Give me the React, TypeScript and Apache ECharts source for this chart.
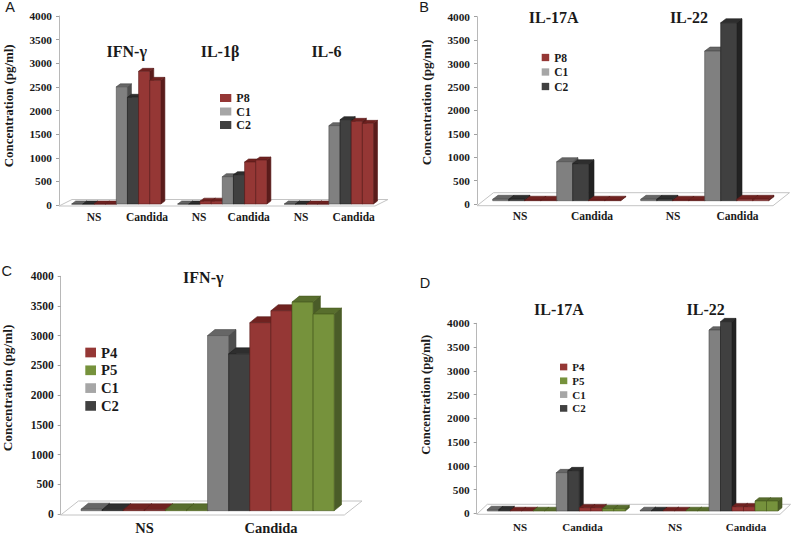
import React, { useEffect, useRef } from "react";
import * as echarts from "echarts";

// Values per [NS, Candida] pair of each cytokine
const cytokinesA = ["IFN-γ", "IL-1β", "IL-6"];
const aC1 = [0, 2480, 0, 578, 0, 1658];
const aC2 = [0, 2258, 0, 620, 0, 1785];
const aP8First = [0, 2808, 60, 889, 0, 1750];
const aP8Second = [0, 2617, 60, 931, 0, 1707];

const cytokinesB = ["IL-17A", "IL-22"];
const bC1 = [30, 833, 30, 3196];
const bC2 = [30, 790, 30, 3800];
const bP8First = [10, 10, 10, 30];
const bP8Second = [10, 10, 10, 30];

const cytokinesC = ["IFN-γ"];
const cC1 = [25, 2947];
const cC2 = [15, 2640];
const cP4First = [15, 3164];
const cP4Second = [15, 3365];
const cP5First = [15, 3510];
const cP5Second = [15, 3309];

const cytokinesD = ["IL-17A", "IL-22"];
const dC1 = [30, 807, 10, 3810];
const dC2 = [30, 849, 10, 3986];
const dP4First = [10, 70, 10, 91];
const dP4Second = [10, 70, 10, 91];
const dP5First = [10, 50, 10, 210];
const dP5Second = [10, 50, 10, 210];

const conditionLabels = ["NS", "Candida"];
const yTicks = { min: 0, max: 4000, interval: 500 };
const yTitle = "Concentration (pg/ml)";

const SERIF = '"Liberation Serif", "Times New Roman", serif';
const SANS = '"Liberation Sans", Arial, sans-serif';

const palette: Record<string, { front: string; top: string; side: string; legend: string; edge: string }> = {
  C1: { front: "#808080", top: "#666666", side: "#4f4f4f", legend: "#a6a6a6", edge: "#4a4a4a" },
  C2: { front: "#404040", top: "#2e2e2e", side: "#222222", legend: "#404040", edge: "#1f1f1f" },
  P8: { front: "#953735", top: "#702220", side: "#5a1c1b", legend: "#953735", edge: "#5a1c1b" },
  P4: { front: "#953735", top: "#702220", side: "#5a1c1b", legend: "#953735", edge: "#5a1c1b" },
  P5: { front: "#76923c", top: "#586e2d", side: "#4a5c28", legend: "#76923c", edge: "#47591f" },
};

type Panel = {
  letter: string; letterX: number; letterY: number;
  left: number; top: number; width: number; height: number;
  barW: number; starts: number[]; dx: number; dy: number; lift: number;
  floorDx: number; floorDy: number; floorBelow: number;
  perCondition: number;
  bars: { name: string; slot: number; values: number[] }[];
  legendNames: string[];
  legendLeft: number; legendTop: number; swatchW: number; swatchH: number; legendFont: number; legendGap: number;
  titles: string[]; titleX: number[]; titleY: number; titleFont: number;
  labelPx: number[]; labelFont: number; labelMargin: number;
  nameX: number; nameY: number; nameFont: number; tickFont: number;
};

const panels: Panel[] = [
  {
    letter: "A", letterX: 10, letterY: 7,
    left: 59, top: 16, width: 316, height: 189,
    barW: 11.15, starts: [71.7, 177.7, 284.3], dx: 4, dy: 3, lift: 1,
    floorDx: 13, floorDy: 6.5, floorBelow: 1,
    perCondition: 4,
    bars: [
      { name: "C1", slot: 0, values: aC1 },
      { name: "C2", slot: 1, values: aC2 },
      { name: "P8", slot: 2, values: aP8First },
      { name: "P8", slot: 3, values: aP8Second },
    ],
    legendNames: ["P8", "C1", "C2"],
    legendLeft: 220, legendTop: 92, swatchW: 11.3, swatchH: 8, legendFont: 12, legendGap: 1.5,
    titles: cytokinesA, titleX: [126.7, 220, 326.5], titleY: 51.5, titleFont: 16,
    labelPx: [94, 147, 199, 248.7, 301, 353.7], labelFont: 11.5, labelMargin: 6,
    nameX: 9, nameY: 105.8, nameFont: 12.9, tickFont: 11.3,
  },
  {
    letter: "B", letterX: 424, letterY: 7,
    left: 477, top: 16.7, width: 296, height: 187.3,
    barW: 16, starts: [492.7, 640.7], dx: 5.3, dy: 4, lift: 3.3,
    floorDx: 16.5, floorDy: 13, floorBelow: 1.7,
    perCondition: 4,
    bars: [
      { name: "C1", slot: 0, values: bC1 },
      { name: "C2", slot: 1, values: bC2 },
      { name: "P8", slot: 2, values: bP8First },
      { name: "P8", slot: 3, values: bP8Second },
    ],
    legendNames: ["P8", "C1", "C2"],
    legendLeft: 541.7, legendTop: 51.5, swatchW: 7.5, swatchH: 7.3, legendFont: 11.5, legendGap: 2.5,
    titles: cytokinesB, titleX: [553.7, 689], titleY: 17, titleFont: 16,
    labelPx: [520, 592, 673, 737.5], labelFont: 11.5, labelMargin: 6,
    nameX: 426.7, nameY: 102.5, nameFont: 13.2, tickFont: 11.3,
  },
  {
    letter: "C", letterX: 6.7, letterY: 270.7,
    left: 60.7, top: 276.3, width: 283.6, height: 239.4,
    barW: 21.1, starts: [81], dx: 7.3, dy: 6, lift: 3.3,
    floorDx: 17.7, floorDy: 14, floorBelow: 1,
    perCondition: 6,
    bars: [
      { name: "C1", slot: 0, values: cC1 },
      { name: "C2", slot: 1, values: cC2 },
      { name: "P4", slot: 2, values: cP4First },
      { name: "P4", slot: 3, values: cP4Second },
      { name: "P5", slot: 4, values: cP5First },
      { name: "P5", slot: 5, values: cP5Second },
    ],
    legendNames: ["P4", "P5", "C1", "C2"],
    legendLeft: 85.3, legendTop: 345, swatchW: 10.7, swatchH: 9.7, legendFont: 14.7, legendGap: 2.8,
    titles: cytokinesC, titleX: [203.3], titleY: 277.7, titleFont: 16,
    labelPx: [144.5, 271], labelFont: 14.5, labelMargin: 6,
    nameX: 7.3, nameY: 388, nameFont: 13.3, tickFont: 11.5,
  },
  {
    letter: "D", letterX: 425, letterY: 283,
    left: 476.7, top: 323.3, width: 303.3, height: 190,
    barW: 11.5, starts: [487.3, 640], dx: 4, dy: 3.3, lift: 2.3,
    floorDx: 10.6, floorDy: 10, floorBelow: 1,
    perCondition: 6,
    bars: [
      { name: "C1", slot: 0, values: dC1 },
      { name: "C2", slot: 1, values: dC2 },
      { name: "P4", slot: 2, values: dP4First },
      { name: "P4", slot: 3, values: dP4Second },
      { name: "P5", slot: 4, values: dP5First },
      { name: "P5", slot: 5, values: dP5Second },
    ],
    legendNames: ["P4", "P5", "C1", "C2"],
    legendLeft: 560, legendTop: 361.5, swatchW: 7.3, swatchH: 6.7, legendFont: 11, legendGap: 2.8,
    titles: cytokinesD, titleX: [559, 705.7], titleY: 309.3, titleFont: 16,
    labelPx: [520, 582.5, 675, 746], labelFont: 11, labelMargin: 8,
    nameX: 426, nameY: 394.7, nameFont: 12.6, tickFont: 11.3,
  },
];

function makeOption() {
  const grid: any[] = [], xAxis: any[] = [], yAxis: any[] = [], legend: any[] = [], series: any[] = [], graphic: any[] = [];

  panels.forEach((p, pi) => {
    grid.push({ left: p.left, top: p.top, width: p.width, height: p.height, containLabel: false });

    const customTicks = p.labelPx.map((px) => px - p.left);
    xAxis.push({
      type: "value", gridIndex: pi, min: 0, max: p.width,
      axisLine: { show: false }, axisTick: { show: false }, splitLine: { show: false },
      axisLabel: {
        show: true, customValues: customTicks, margin: p.labelMargin, hideOverlap: false,
        showMinLabel: true, showMaxLabel: true,
        fontFamily: SERIF, fontWeight: "bold", fontSize: p.labelFont, color: "#1a1a1a",
        formatter: (v: number) => conditionLabels[customTicks.indexOf(v) % 2],
      },
    });
    yAxis.push({
      type: "value", gridIndex: pi, ...yTicks,
      splitLine: { show: false },
      axisLine: { show: true, lineStyle: { color: "#b8b8b8", width: 1 } },
      axisTick: { show: true, length: 3, lineStyle: { color: "#a0a0a0", width: 1 } },
      axisLabel: { margin: 7, fontFamily: SERIF, fontWeight: "bold", fontSize: p.tickFont, color: "#1a1a1a", formatter: (v: number) => String(v) },
    });

    legend.push({
      orient: "vertical", left: p.legendLeft, top: p.legendTop, padding: 0, selectedMode: false,
      itemWidth: p.swatchW, itemHeight: p.swatchH, itemGap: p.legendGap,
      textStyle: { fontFamily: SERIF, fontWeight: "bold", fontSize: p.legendFont, color: "#1a1a1a" },
      icon: "rect",
      data: p.legendNames.map((n) => ({ name: n, icon: "rect", itemStyle: { color: palette[n].legend, borderWidth: 0 } })),
    });

    // floor of the 3D plot
    series.push({
      type: "custom", name: "floor" + p.letter, xAxisIndex: pi, yAxisIndex: pi, silent: true, clip: false,
      data: [[0, 0]], encode: { x: 0, y: 1 },
      renderItem: (_: any, api: any) => {
        const l = api.coord([0, 0]);
        const r = api.coord([p.width, 0]);
        const y = l[1] + p.floorBelow;
        return {
          type: "polygon", z2: 0,
          shape: { points: [[l[0], y], [l[0] + p.floorDx, y - p.floorDy], [r[0] + p.floorDx, y - p.floorDy], [r[0], y]] },
          style: { fill: "#ffffff", stroke: "#c4c4c4", lineWidth: 1 },
        };
      },
    });

    p.bars.forEach((b) => {
      const data = b.values.map((v, i) => {
        const group = Math.floor(i / 2);
        const cond = i % 2;
        const x = p.starts[group] + (cond * p.perCondition + b.slot) * p.barW - p.left;
        return [x, v];
      });
      const col = palette[b.name];
      series.push({
        type: "custom", name: b.name, xAxisIndex: pi, yAxisIndex: pi, clip: false,
        itemStyle: { color: col.legend }, data, encode: { x: 0, y: 1 },
        renderItem: (_: any, api: any) => {
          const x = api.value(0), v = api.value(1);
          const bl = api.coord([x, 0]);
          const br = api.coord([x + p.barW, 0]);
          const tl = api.coord([x, v]);
          const y0 = bl[1] - p.lift, y1 = tl[1] - p.lift;
          const x0 = bl[0], x1 = br[0];
          const z = Math.round(x) * 3 + 10;
          const edge = { stroke: col.edge, lineWidth: 0.6 };
          return {
            type: "group",
            children: [
              { type: "polygon", z2: z, shape: { points: [[x1, y0], [x1 + p.dx, y0 - p.dy], [x1 + p.dx, y1 - p.dy], [x1, y1]] }, style: { fill: col.side, ...edge } },
              { type: "polygon", z2: z, shape: { points: [[x0, y1], [x0 + p.dx, y1 - p.dy], [x1 + p.dx, y1 - p.dy], [x1, y1]] }, style: { fill: col.top, ...edge } },
              { type: "rect", z2: z + 1, shape: { x: x0, y: y1, width: x1 - x0, height: y0 - y1 }, style: { fill: col.front, ...edge } },
            ],
          };
        },
      });
    });

    const text = (t: string, x: number, y: number, font: number, family: string, weight: string, rotation = 0) => ({
      type: "text", x, y, rotation, silent: true, z: 20,
      style: { text: t, fontSize: font, fontFamily: family, fontWeight: weight, fill: "#1a1a1a", align: "center", verticalAlign: "middle" },
    });
    graphic.push(text(p.letter, p.letterX, p.letterY, 14.5, SANS, "normal"));
    p.titles.forEach((t, i) => graphic.push(text(t, p.titleX[i], p.titleY, p.titleFont, SERIF, "bold")));
    graphic.push(text(yTitle, p.nameX, p.nameY, p.nameFont, SERIF, "bold", Math.PI / 2));
  });

  return { animation: false, backgroundColor: "#ffffff", grid, xAxis, yAxis, legend, series, graphic };
}

export default function App() {
  const ref = useRef<HTMLDivElement>(null);
  useEffect(() => {
    const chart = echarts.init(ref.current!, undefined, { renderer: "svg" });
    chart.setOption(makeOption() as any);
    return () => chart.dispose();
  }, []);
  return <div ref={ref} style={{ position: "absolute", left: 0, top: 0, width: 794, height: 535 }} />;
}
